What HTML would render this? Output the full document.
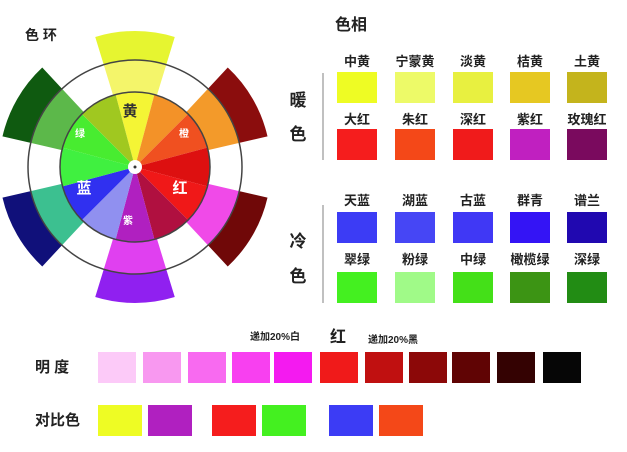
<!DOCTYPE html>
<html><head><meta charset="utf-8"><style>
body{margin:0;background:#fff;}
svg{display:block;font-family:"Liberation Sans","Noto Sans CJK SC",sans-serif;}
</style></head><body>
<svg id="s" width="627" height="452" viewBox="0 0 627 452">
<g id="wheel"></g>
<g id="right"></g>
<g id="bottom"></g>
</svg>
<script>
const NS="http://www.w3.org/2000/svg";
const segColors=["#f4f535","#f39228","#f05020","#dd1010","#f01818","#b01040","#b020c0","#9090f0","#3030f0","#40f040","#48ec30","#a0c820"];
const petalAngles=[90,30,-30,-90,-150,150];
const petalInner=["#f4f56a","#f39a2a","#f04ae8","#e040f0","#3cc090","#5cb84a"];
const petalOuter=["#e6f530","#8b0d0d","#700808","#9020f0","#10107a","#0f5a10"];
const warmNames=[["中黄","宁蒙黄","淡黄","桔黄","土黄"],["大红","朱红","深红","紫红","玫瑰红"]];
const warmColors=[["#eefc24","#edfa68","#e8f040","#e6c822","#c4b41c"],["#f51d1d","#f44818","#f01b1b","#c020c0","#7a0a5e"]];
const coolNames=[["天蓝","湖蓝","古蓝","群青","谱兰"],["翠绿","粉绿","中绿","橄榄绿","深绿"]];
const coolColors=[["#3c3cf5","#4646f5","#4038f5","#3414f5","#2008b0"],["#44f020","#a0fa88","#44e018","#3c9414","#228c14"]];
const valueColors=["#fccaf8","#f898f0","#f86af0","#f840f0","#f41af0","#f01a1a","#c01010","#8c0808","#600404","#340202","#060606"];
const contrastColors=["#eefc24","#b020c0","#f51d1d","#44f020","#3c3cf5","#f44818"];
function el(p,t,a,txt){const e=document.createElementNS(NS,t);for(const k in a)e.setAttribute(k,a[k]);if(txt!==undefined)e.textContent=txt;p.appendChild(e);return e;}
const cx=135,cy=167,r1=75,r2=107,r3=136;
function pt(r,a){const t=a*Math.PI/180;return [cx+r*Math.cos(t),cy-r*Math.sin(t)];}
function sector(ri,ro,a0,a1){const p1=pt(ro,a0),p2=pt(ro,a1),p3=pt(ri,a1),p4=pt(ri,a0);
return `M${p1}A${ro},${ro} 0 0 0 ${p2}L${p3}`+(ri>0?`A${ri},${ri} 0 0 1 ${p4}`:"")+"Z";}
const W=document.getElementById('wheel');
petalAngles.forEach((a,i)=>{
 const e1=el(W,'path',{d:sector(r2,r3,a-17,a+17),fill:petalOuter[i]});
 
 
 const e2=el(W,'path',{d:sector(r1,r2,a-17,a+17),fill:petalInner[i]});
 
 
});
el(W,'circle',{cx,cy,r:r2,fill:'none',stroke:'#444','stroke-width':1.5});
segColors.forEach((c,i)=>{
 const a=90-i*30;
 const e=el(W,'path',{d:sector(0,r1,a+15,a-15).replace('A75,75 0 0 0','A75,75 0 0 1'),fill:c});
 
 
});
el(W,'circle',{cx,cy,r:r1,fill:'none',stroke:'#444','stroke-width':1.5});
el(W,'circle',{cx,cy,r:7,fill:'#fff'});
el(W,'circle',{cx,cy,r:1.5,fill:'#333'});
const wl=[["黄",130,116,15,"#333"],["橙",184,137,10,"#fff"],["红",180,193,15,"#fff"],["紫",128,224,10,"#fff"],["蓝",84,193,15,"#fff"],["绿",80,137,10,"#fff"]];
wl.forEach(l=>{const t=el(W,'text',{x:l[1],y:l[2],'font-size':l[3],fill:l[4],'text-anchor':'middle','font-weight':'bold'},l[0]);
 });
el(W,'text',{x:25,y:40,'font-size':14,fill:'#222','font-weight':'bold'},"色 环");
const R=document.getElementById('right');
el(R,'text',{x:335,y:30,'font-size':16,fill:'#222','font-weight':'bold'},"色相");
const xs=[337,395,453,510,567];
function grid(names,colors,ys,lys,side,lineY){
 names.forEach((row,ri)=>row.forEach((n,i)=>{
  const t=el(R,'text',{x:xs[i]+20,y:lys[ri],'font-size':13,fill:'#222','text-anchor':'middle','font-weight':'bold'},n);
  
  const r=el(R,'rect',{x:xs[i],y:ys[ri],width:40,height:31,fill:colors[ri][i]});
  
 }));
 el(R,'line',{x1:323,x2:323,y1:lineY[0],y2:lineY[1],stroke:'#aaa','stroke-width':1.5});
 el(R,'text',{x:298,y:side[0],'font-size':17,fill:'#222','text-anchor':'middle','font-weight':'bold'},side[2]);
 el(R,'text',{x:298,y:side[1],'font-size':17,fill:'#222','text-anchor':'middle','font-weight':'bold'},"色");
}
grid(warmNames,warmColors,[72,129],[66,124],[106,140,"暖"],[73,160]);
grid(coolNames,coolColors,[212,272],[205,264],[247,282,"冷"],[205,303]);
const B=document.getElementById('bottom');
const vx=[98,143,188,232,274,320,365,409,452,497,543];
valueColors.forEach((c,i)=>{const r=el(B,'rect',{x:vx[i],y:352,width:38,height:31,fill:c});
 });
const cxs=[98,148,212,262,329,379];
contrastColors.forEach((c,i)=>{const r=el(B,'rect',{x:cxs[i],y:405,width:44,height:31,fill:c});
 });
el(B,'text',{x:250,y:340,'font-size':10,fill:'#222','font-weight':'bold'},"递加20%白");
el(B,'text',{x:330,y:342,'font-size':16,fill:'#222','font-weight':'bold'},"红");
el(B,'text',{x:368,y:343,'font-size':10,fill:'#222','font-weight':'bold'},"递加20%黑");
el(B,'text',{x:35,y:372,'font-size':15,fill:'#222','font-weight':'bold'},"明  度");
el(B,'text',{x:35,y:425,'font-size':15,fill:'#222','font-weight':'bold'},"对比色");
</script>
</body></html>
